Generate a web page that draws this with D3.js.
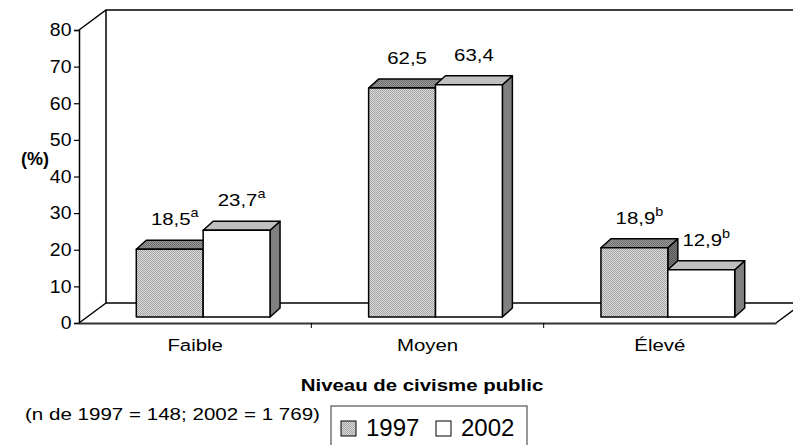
<!DOCTYPE html>
<html>
<head>
<meta charset="utf-8">
<script src="https://cdn.jsdelivr.net/npm/d3@7"></script>
<style>
  body { margin: 0; background: #fff; }
  svg { display: block; font-family: "Liberation Sans", Arial, sans-serif; }
</style>
</head>
<body>
<svg id="viz" width="793" height="445"></svg>
<script>
const categories = ["Faible", "Moyen", "Élevé"];
const series = ["1997", "2002"];
const values1997 = [18.5, 62.5, 18.9];
const values2002 = [23.7, 63.4, 12.9];
const notes1997 = ["a", "", "b"];
const notes2002 = ["a", "", "b"];
const yTicks = [0, 10, 20, 30, 40, 50, 60, 70, 80];

const svg = d3.select("#viz");

// front plane of the 3D box and its depth
const x0 = 79, x1 = 776;
const depth = { dx: 27, dy: -20 };
const barShift = { dx: 8, dy: -6 };   // bars sit a bit into the box
const barDepth = { dx: 10, dy: -9 };

const y = d3.scaleLinear().domain([0, 80]).range([323, 30]);
const xCat = d3.scaleBand().domain(categories).range([x0, x1]).padding(0);
const xSer = d3.scaleBand().domain(series).range([0, xCat.bandwidth()])
  .paddingInner(0).paddingOuter(0.737);

// the original chart was stretched sideways, so text is too
function label(x, yy, txt, size, stretch) {
  return svg.append("text")
    .attr("transform", `translate(${x},${yy}) scale(${stretch},1)`)
    .attr("font-size", size)
    .text(txt);
}

// stipple pattern for 1997
const defs = svg.append("defs");
function stipple(id, light, dark) {
  const p = defs.append("pattern").attr("id", id)
    .attr("width", 2).attr("height", 2).attr("patternUnits", "userSpaceOnUse");
  p.append("rect").attr("width", 2).attr("height", 2).attr("fill", light);
  p.append("rect").attr("width", 1).attr("height", 1).attr("fill", dark);
  p.append("rect").attr("x", 1).attr("y", 1).attr("width", 1).attr("height", 1).attr("fill", dark);
}
stipple("dots", "#dcdcdc", "#a4a4a4");
stipple("dotsTop", "#9a9a9a", "#6e6e6e");
stipple("dotsSide", "#7a7a7a", "#555");

// walls
const y0 = y(0), yTop = y(80);
const walls = svg.append("g").attr("fill", "none").attr("stroke", "#000").attr("stroke-width", 1.5);
const line = d3.line();
walls.append("path").attr("d", line([[x0, yTop], [x0 + depth.dx, yTop + depth.dy], [x1 + depth.dx + 30, yTop + depth.dy]]));
walls.append("path").attr("d", line([[x0 + depth.dx, yTop + depth.dy], [x0 + depth.dx, y0 + depth.dy], [x1 + depth.dx + 30, y0 + depth.dy]]));
walls.append("path").attr("d", line([[x0, y0], [x0 + depth.dx, y0 + depth.dy]]));
walls.append("path").attr("d", line([[x1, y0], [x1 + depth.dx, y0 + depth.dy]]));

// y axis
const yAxis = svg.append("g")
  .attr("transform", `translate(${x0},0)`)
  .call(d3.axisLeft(y).tickValues(yTicks).tickSize(5).tickPadding(2).tickFormat(d3.format("d")));
yAxis.select(".domain").attr("stroke", "#000").attr("stroke-width", 1.5);
yAxis.selectAll(".tick line").attr("stroke", "#000").attr("stroke-width", 1.2);
yAxis.selectAll("text").attr("font-size", 18).attr("fill", "#000")
  .attr("font-family", "Liberation Sans, Arial, sans-serif")
  .attr("transform", "scale(1.08,1)");

// x axis
const xAxis = svg.append("g")
  .attr("transform", `translate(0,${y0})`)
  .call(d3.axisBottom(xCat).tickSize(0).tickPadding(12));
xAxis.select(".domain").attr("stroke", "#333").attr("stroke-width", 2.2);
xAxis.selectAll("text").attr("font-size", 17).attr("fill", "#000")
  .attr("font-family", "Liberation Sans, Arial, sans-serif").attr("dy", "0.95em")
  .attr("transform", "scale(1.2,1)");
svg.append("g").selectAll("line")
  .data(categories.slice(1))
  .join("line")
  .attr("x1", d => xCat(d)).attr("x2", d => xCat(d))
  .attr("y1", y0).attr("y2", y0 + 5)
  .attr("stroke", "#000");

// bars
const rows = [];
categories.forEach((c, i) => {
  rows.push({ cat: c, ser: "1997", v: values1997[i], note: notes1997[i] });
  rows.push({ cat: c, ser: "2002", v: values2002[i], note: notes2002[i] });
});
const fills = {
  "1997": { front: "url(#dots)", top: "url(#dotsTop)", side: "url(#dotsSide)" },
  "2002": { front: "#fff", top: "#c0c0c0", side: "#808080" }
};

const bars = svg.append("g").attr("stroke", "#000").attr("stroke-width", 1.5).attr("stroke-linejoin", "round");
rows.forEach(r => {
  const xl = xCat(r.cat) + xSer(r.ser) + barShift.dx;
  const xr = xl + xSer.bandwidth();
  const yt = y(r.v) + barShift.dy;
  const yb = y0 + barShift.dy;
  const g = bars.append("g");
  g.append("path").attr("fill", fills[r.ser].side)
    .attr("d", line([[xr, yb], [xr, yt], [xr + barDepth.dx, yt + barDepth.dy], [xr + barDepth.dx, yb + barDepth.dy]]) + "Z");
  g.append("path").attr("fill", fills[r.ser].top)
    .attr("d", line([[xl, yt], [xl + barDepth.dx, yt + barDepth.dy], [xr + barDepth.dx, yt + barDepth.dy], [xr, yt]]) + "Z");
  g.append("rect").attr("fill", fills[r.ser].front)
    .attr("x", xl).attr("y", yt).attr("width", xr - xl).attr("height", yb - yt);

  const t = label((xl + xr) / 2 + barDepth.dx / 2, yt + barDepth.dy - 15, null, 17, 1.2)
    .attr("text-anchor", "middle");
  t.append("tspan").text(d3.format(".1f")(r.v).replace(".", ","));
  if (r.note) t.append("tspan").attr("dy", -8).attr("font-size", 12).text(r.note);
});

// labels
label(35, 165, "(%)", 18, 1).attr("text-anchor", "middle").attr("font-weight", "bold");
label(422, 391, "Niveau de civisme public", 17, 1.2).attr("text-anchor", "middle").attr("font-weight", "bold");
label(25, 420, "(n de 1997 = 148; 2002 = 1 769)", 17, 1.21);

// legend
const legend = svg.append("g");
legend.append("rect").attr("x", 331).attr("y", 406).attr("width", 196).attr("height", 46)
  .attr("fill", "#fff").attr("stroke", "#555").attr("stroke-width", 1.2);
series.forEach((s, i) => {
  const lx = 341 + i * 95;
  legend.append("rect").attr("x", lx).attr("y", 421).attr("width", 15).attr("height", 15)
    .attr("fill", fills[s].front).attr("stroke", "#000").attr("stroke-width", 1);
  label(lx + 25, 436, s, 24, 1);
});
</script>
</body>
</html>
